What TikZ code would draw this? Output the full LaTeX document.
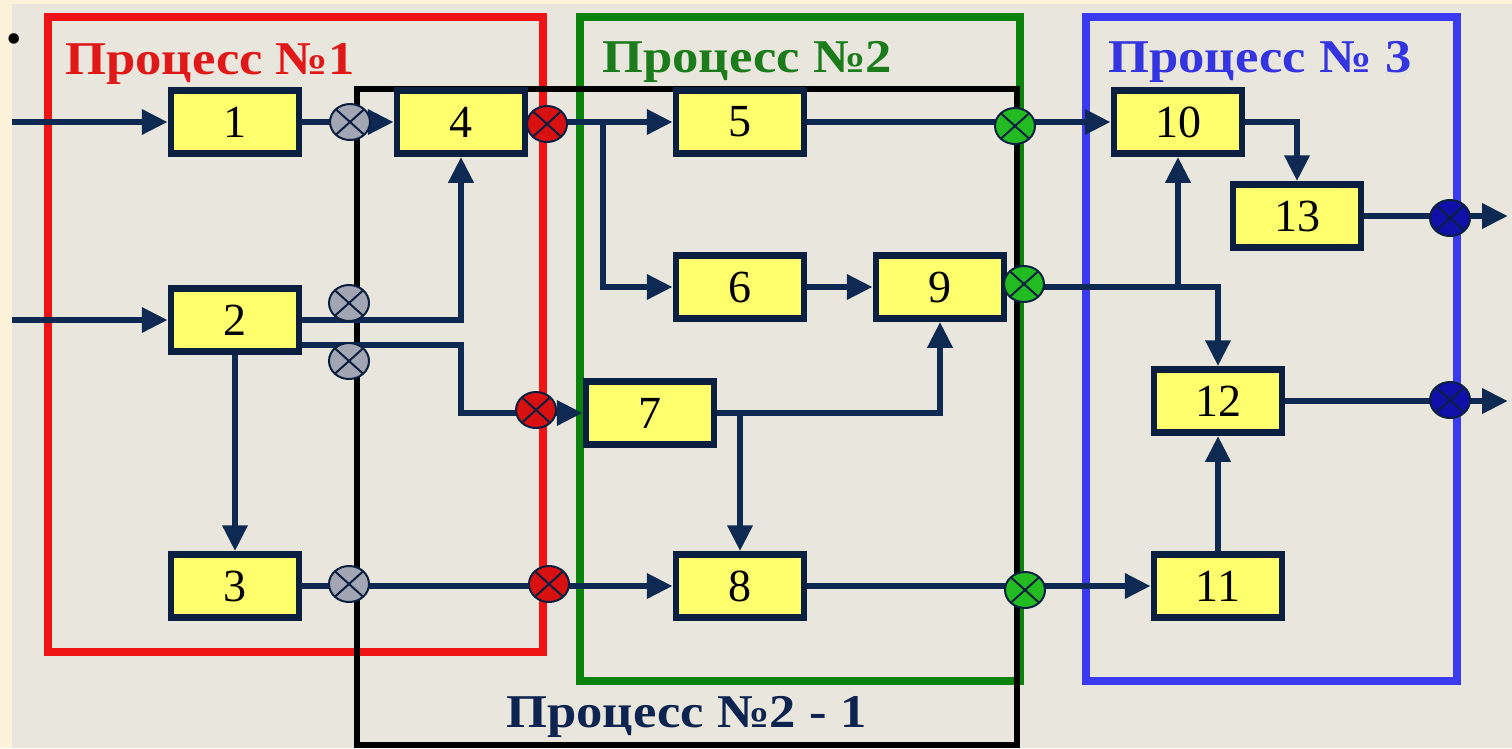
\documentclass[tikz,border=0pt]{standalone}
\usepackage{fontspec}
\setmainfont{Liberation Serif}
\usetikzlibrary{arrows.meta,shapes.geometric}
\pgfdeclarelayer{bgl}\pgfdeclarelayer{frl}\pgfdeclarelayer{lnl}
\pgfsetlayers{bgl,frl,lnl,main}
\definecolor{cream}{HTML}{FCF2DA}
\definecolor{bgc}{HTML}{E9E7DD}
\definecolor{navy}{HTML}{0E2A52}
\definecolor{boxline}{HTML}{0B2040}
\definecolor{boxfill}{HTML}{FFFF6E}
\definecolor{fred}{HTML}{EE1414}
\definecolor{fgreen}{HTML}{0B820B}
\definecolor{fblue}{HTML}{3A3AF0}
\definecolor{tred}{HTML}{E01818}
\definecolor{tgreen}{HTML}{1C7C1C}
\definecolor{tblue}{HTML}{3434E0}
\definecolor{tnavy}{HTML}{0D2350}
\definecolor{cgray}{HTML}{A2A6B2}
\definecolor{cred}{HTML}{D81010}
\definecolor{cgreen}{HTML}{22BB22}
\definecolor{cblue}{HTML}{1010A8}
\tikzset{
  procbox/.style={draw=boxline, fill=boxfill, line width=6.5pt, minimum width=128pt, minimum height=63pt, inner sep=0pt, font=\fontsize{46}{46}\selectfont},
  flow/.style={draw=navy, line width=6.5pt, -{Triangle[length=26pt,width=24pt]}},
  xcirc/.style={ellipse, fill=#1, draw=boxline, line width=2pt, minimum width=40pt, minimum height=36pt, inner sep=0pt,
    path picture={\draw[boxline, line width=2pt] (path picture bounding box.north west) -- (path picture bounding box.south east)
      (path picture bounding box.north east) -- (path picture bounding box.south west);}},
  frame/.style={draw=#1, line width=8pt},
  ptitle/.style={text=#1, font=\bfseries\fontsize{47}{47}\selectfont, anchor=base west, inner sep=0pt, xscale=1.12}
}
\begin{document}
\begin{tikzpicture}[x=1pt,y=-1pt]
\useasboundingbox (0,0) rectangle (1512,748);
\begin{pgfonlayer}{bgl}
  \fill[cream] (0,0) rectangle (1512,748);
  \fill[bgc] (12,4) rectangle (1512,748);
\end{pgfonlayer}
\begin{pgfonlayer}{frl}
  \draw[frame=fred] (48,17) rectangle (543,652);
  \draw[frame=fgreen] (580,17) rectangle (1020,681);
  \draw[frame=fblue] (1086,17) rectangle (1457,681);
  \draw[draw=black, line width=6pt] (357,89) rectangle (1017,745);
\end{pgfonlayer}

\node (bul) at (14,44) {\fontsize{44}{44}\selectfont •};

\node[ptitle=tred] (t1) at (65,74) {Процесс №1};
\node[ptitle=tgreen] (t2) at (602,72) {Процесс №2};
\node[ptitle=tblue] (t3) at (1108,72) {Процесс № 3};
\node[ptitle=tnavy] (t4) at (506,727) {Процесс №2 - 1};

% boxes
\node[procbox] (b1) at (235,122) {1};
\node[procbox] (b2) at (235,320) {2};
\node[procbox] (b3) at (235,586) {3};
\node[procbox] (b4) at (461,122) {4};
\node[procbox] (b5) at (740,122) {5};
\node[procbox] (b6) at (740,287) {6};
\node[procbox] (b9) at (940,287) {9};
\node[procbox] (b7) at (650,413) {7};
\node[procbox] (b8) at (740,586) {8};
\node[procbox] (b10) at (1178,122) {10};
\node[procbox] (b13) at (1297,216) {13};
\node[procbox] (b12) at (1218,401) {12};
\node[procbox] (b11) at (1218,586) {11};

% crossing marks
\node[xcirc=cgray] (g1) at (350,122) {};
\node[xcirc=cgray] (g2) at (349,303) {};
\node[xcirc=cgray] (g3) at (349,361) {};
\node[xcirc=cgray] (g4) at (349,584) {};
\node[xcirc=cred] (r1) at (547,124) {};
\node[xcirc=cred] (r2) at (536,410) {};
\node[xcirc=cred] (r3) at (549,584) {};
\node[xcirc=cgreen] (q1) at (1015,126) {};
\node[xcirc=cgreen] (q2) at (1024,284) {};
\node[xcirc=cgreen] (q3) at (1025,590) {};
\node[xcirc=cblue] (u1) at (1450,218) {};
\node[xcirc=cblue] (u2) at (1450,400) {};

\coordinate (in1) at (12,122);
\coordinate (in2) at (12,320);
\coordinate (k27) at (461,345);
\coordinate (k46) at (603,122);
\coordinate (k78) at (740,413);
\coordinate (k910) at (1178,287);
\coordinate (out1) at (1508,216);
\coordinate (out2) at (1508,401);

\begin{pgfonlayer}{lnl}
  \draw[flow] (in1) -- (b1.west);
  \draw[flow] (in2) -- (b2.west);
  \draw[flow] (b1.east) -- (b4.west);
  \draw[flow] (b2.east) -| (b4.south);
  \draw[flow] ([yshift=-25pt]b2.east) -- (k27) |- (b7.west);
  \draw[flow] (b2.south) -- (b3.north);
  \draw[flow] (b3.east) -- (b8.west);
  \draw[flow] (b4.east) -- (b5.west);
  \draw[flow] (k46) |- (b6.west);
  \draw[flow] (b6.east) -- (b9.west);
  \draw[flow] (b7.east) -| (b9.south);
  \draw[flow] (k78) -- (b8.north);
  \draw[flow] (b5.east) -- (b10.west);
  \draw[flow] (b9.east) -| (b12.north);
  \draw[flow] (k910) -- (b10.south);
  \draw[flow] (b8.east) -- (b11.west);
  \draw[flow] (b11.north) -- (b12.south);
  \draw[flow] (b10.east) -| (b13.north);
  \draw[flow] (b13.east) -- (out1);
  \draw[flow] (b12.east) -- (out2);
\end{pgfonlayer}
\end{tikzpicture}
\end{document}
